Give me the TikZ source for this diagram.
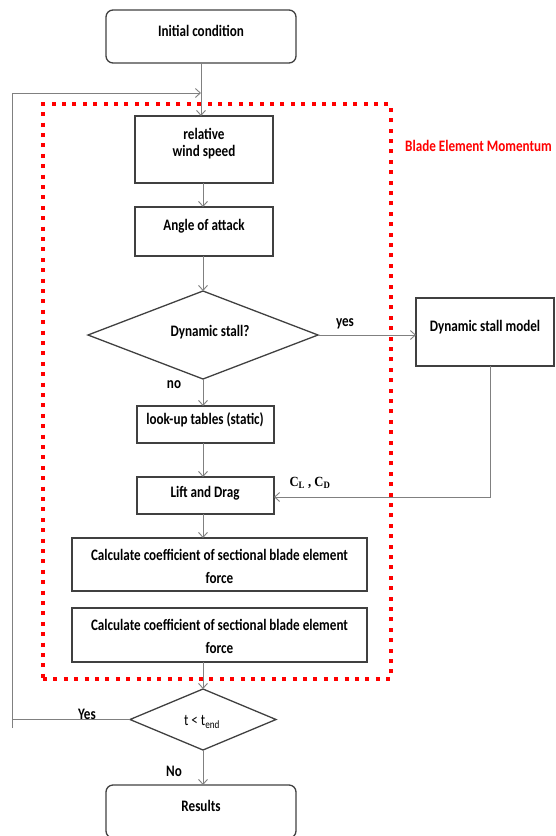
\documentclass[tikz,border=0pt]{standalone}
\usepackage{fontspec}
\setmainfont{Carlito}
\newfontfamily\lblfont[FakeStretch=0.82]{Carlito}
\newfontfamily\serifont[FakeStretch=0.9]{Liberation Serif}
\usetikzlibrary{arrows.meta,shapes.geometric}
\definecolor{boxline}{HTML}{404040}
\definecolor{connline}{HTML}{808080}
\definecolor{bemred}{HTML}{FF0000}
\begin{document}
\begin{tikzpicture}[x=1pt,y=-1pt,
  box/.style={draw=boxline, line width=1.3pt, inner sep=0pt, outer sep=0pt},
  rbox/.style={box, rounded corners=7pt},
  dia/.style={box, diamond},
  txt/.style={font=\lblfont\bfseries\fontsize{16}{17}\selectfont, align=center, inner sep=0pt},
  wide/.style={font=\lblfont\bfseries\fontsize{16}{23}\selectfont},
  conn/.style={draw=connline, line width=0.9pt},
  arr/.style={conn, -{Straight Barb[length=5pt,width=9pt]}},
]
\useasboundingbox (0,0) rectangle (555,836);

% red dotted frame
\node[draw=bemred, line width=4pt, dash pattern=on 4pt off 6.4pt, inner sep=0pt,
      minimum width=348pt, minimum height=575pt] (bem) at (217,391.5) {};
\node[txt, text=bemred, anchor=west] (bemlbl) at (405,146) {Blade Element Momentum};

% boxes
\node[rbox, minimum width=190pt, minimum height=53pt] (init) at (201,36.5) {};
\node[txt] (initt) at (201,31) {Initial condition};

\node[box, minimum width=138pt, minimum height=67pt] (rel) at (204,149.5) {};
\node[txt] (relt) at (204,143.5) {relative\\wind speed};

\node[box, minimum width=138pt, minimum height=49pt] (aoa) at (204,231.5) {};
\node[txt] (aoat) at (204,226) {Angle of attack};

\node[dia, minimum width=230pt, minimum height=88pt] (ds) at (203,335) {};
\node[txt] (dst) at (210,332) {Dynamic stall?};

\node[box, minimum width=138pt, minimum height=68pt] (dsm) at (485,332) {};
\node[txt] (dsmt) at (485,327) {Dynamic stall model};

\node[box, minimum width=137pt, minimum height=37pt] (lut) at (205.5,424.5) {};
\node[txt] (lutt) at (205,420) {look-up tables (static)};

\node[box, minimum width=137pt, minimum height=37pt] (lift) at (205.5,495.5) {};
\node[txt] (liftt) at (205,493) {Lift and Drag};

\node[box, minimum width=295pt, minimum height=53pt] (calc1) at (219.5,564.5) {};
\node[txt, wide, text depth=0pt] (calc1t) at (219.5,566) {Calculate coefficient of sectional blade element\\force};

\node[box, minimum width=295pt, minimum height=54pt] (calc2) at (219.5,635) {};
\node[txt, wide, text depth=0pt] (calc2t) at (219.5,636) {Calculate coefficient of sectional blade element\\force};

\node[dia, minimum width=146pt, minimum height=61pt] (tend) at (203,719.5) {};
\node[font=\lblfont\fontsize{16}{17}\selectfont, inner sep=0pt] (tendt) at (202,722) {t {<} t\textsubscript{end}};

\node[rbox, minimum width=190pt, minimum height=53pt] (res) at (201,811.5) {};
\node[txt] (rest) at (201,806) {Results};

% connectors
\coordinate (jn) at (201,93);
\coordinate (lp) at (12,93);
\coordinate (lpb) at (12,728);
\coordinate (dsmout) at (490,366);
\coordinate (dsmcorner) at (490,497);

\draw[arr] (init.south) -- (init.south |- rel.north);
\draw[arr] (lpb) -- (lp) -- (jn);
\draw[conn] (tend.west) -- (tend.west -| lp);
\draw[arr] (rel.south -| ds.north) -- (ds.north |- aoa.north);
\draw[arr] (aoa.south -| ds.north) -- (ds.north);
\draw[arr] (ds.south) -- (ds.south |- lut.north);
\draw[arr] (lut.south -| ds.south) -- (ds.south |- lift.north);
\draw[arr] (lift.south -| ds.south) -- (ds.south |- calc1.north);
\draw[arr] (ds.east) -- (ds.east -| dsm.west);
\draw[arr] (dsmout) -- (dsmcorner) -- (dsmcorner -| lift.east);
\draw[arr] (calc2.south -| tend.north) -- (tend.north);
\draw[arr] (tend.south) -- (res.north -| tend.south);

% branch labels
\node[txt] (yes) at (345,324) {yes};
\node[txt] (no) at (174,385) {no};
\node[txt] (yes2) at (87,714) {Yes};
\node[txt] (no2) at (174,771) {No};
\node[font=\serifont\bfseries\fontsize{14}{15}\selectfont, inner sep=0pt] (cl) at (310,483) {C\textsubscript{L} , C\textsubscript{D}};
\end{tikzpicture}
\end{document}
